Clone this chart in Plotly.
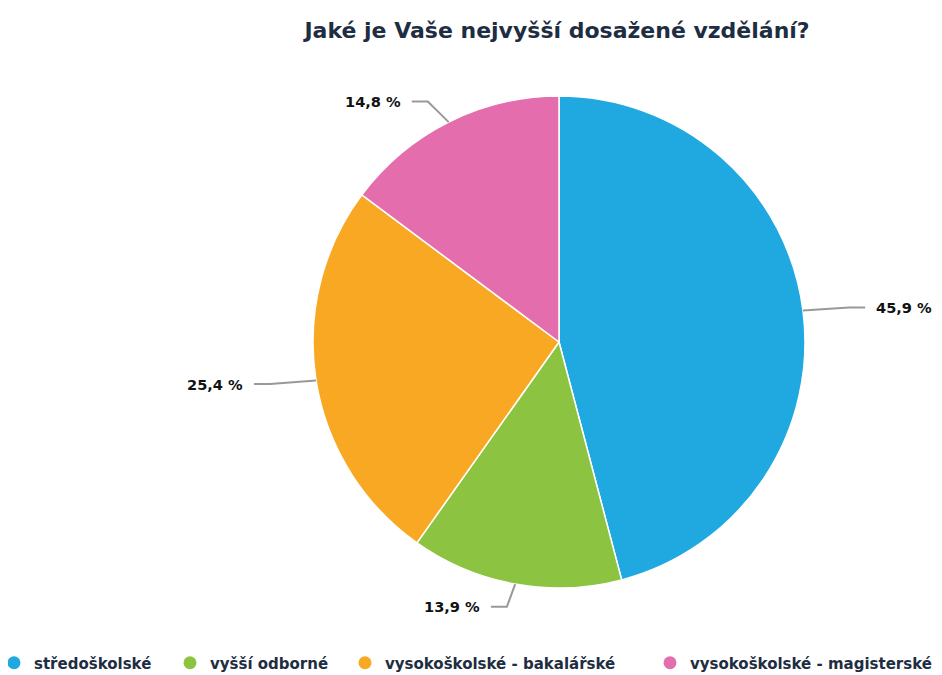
import math
import plotly.graph_objects as go

categories = ["středoškolské", "vyšší odborné", "vysokoškolské - bakalářské", "vysokoškolské - magisterské"]
values = [45.9, 13.9, 25.4, 14.8]
colors = ["#20A8E0", "#8CC441", "#F9A823", "#E46EAD"]
title_text = "Jaké je Vaše nejvyšší dosažené vzdělání?"

# page body has an 8px margin, so the figure is sized to fit the 942x675 window
W, H = 934, 667
CX, CY, R = 551, 334, 246  # pie centre / radius in figure pixels (layout)
KX, KY = 1.06, 0.975        # layout: label ring stretch
FONT = "DejaVu Sans"
LEGEND_MARKER_X = [6, 182, 357, 662]  # layout: legend marker positions (px)

fig = go.Figure()
fig.add_trace(go.Pie(
    labels=categories, values=values, sort=False, direction="clockwise", rotation=0,
    marker=dict(colors=colors, line=dict(color="white", width=1.5)),
    textinfo="none", hoverinfo="label+percent", showlegend=False,
    domain=dict(x=[(CX - R) / W, (CX + R) / W], y=[(H - CY - R) / H, (H - CY + R) / H]),
))

legend_layouts = {}
for i, (c, col) in enumerate(zip(categories, colors)):
    lname = "legend" if i == 0 else f"legend{i + 1}"
    fig.add_trace(go.Scatter(x=[None], y=[None], mode="markers", name=c, legend=lname,
                             marker=dict(color=col, size=13, symbol="circle")))
    legend_layouts[lname] = dict(
        orientation="h", x=(LEGEND_MARKER_X[i] - 20) / W, xanchor="left",
        y=12 / H, yanchor="middle", bgcolor="rgba(0,0,0,0)",
        font=dict(family=FONT, size=15, color="#1E2D42", weight="bold"))

def px2paper(x, y):
    return x / W, 1 - y / H

total = sum(values)
shapes, annotations = [], []
start = 0.0
for v in values:
    frac = v / total
    mid = (start + frac / 2) * 2 * math.pi
    start += frac
    s, c = math.sin(mid), math.cos(mid)
    p0 = (CX + R * s, CY - R * c)
    p1 = (CX + (R + 30) * s * KX, CY - (R + 30) * c * KY)
    side = 1 if s >= 0 else -1
    p2 = (p1[0] + 16 * side, p1[1])
    a, b, d = px2paper(*p0), px2paper(*p1), px2paper(*p2)
    shapes.append(dict(type="path", xref="paper", yref="paper",
                       path=f"M {a[0]} {a[1]} L {b[0]} {b[1]} L {d[0]} {d[1]}",
                       line=dict(color="#999999", width=2)))
    tx = px2paper(p2[0] + 9 * side, p2[1])
    annotations.append(dict(xref="paper", yref="paper", x=tx[0], y=tx[1],
                            text=f"{v:.1f} %".replace(".", ","), showarrow=False,
                            xanchor="left" if side > 0 else "right", yanchor="middle",
                            font=dict(family=FONT, size=14.6, color="#111111", weight="bold")))

fig.update_layout(
    width=W, height=H,
    margin=dict(l=0, r=0, t=0, b=0, pad=0, autoexpand=False),
    paper_bgcolor="white", plot_bgcolor="white",
    title=dict(text=title_text, x=549 / W, xanchor="center", y=1 - 22 / H, yanchor="middle",
               font=dict(family=FONT, size=22, color="#1E2D42", weight="bold")),
    xaxis=dict(visible=False), yaxis=dict(visible=False),
    shapes=shapes, annotations=annotations,
    showlegend=True,
    **legend_layouts,
)
fig.write_html("out.html")
